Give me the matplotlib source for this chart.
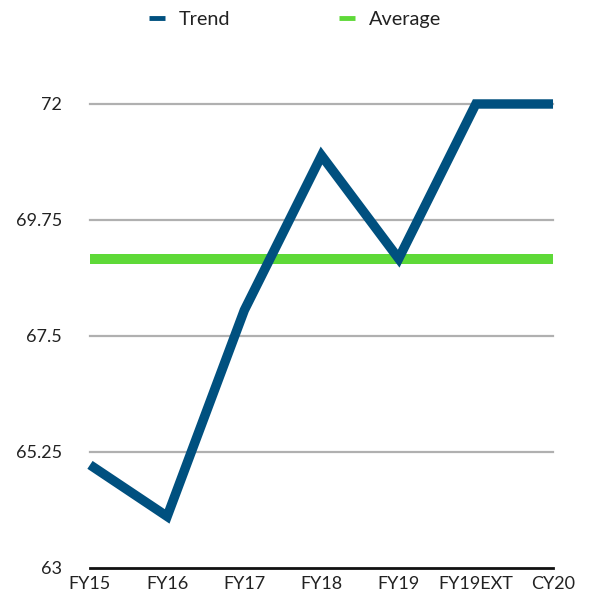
import matplotlib
matplotlib.use("Agg")
import matplotlib.pyplot as plt

plt.rcParams['font.family'] = ['Lato', 'DejaVu Sans']

periods = ['FY15', 'FY16', 'FY17', 'FY18', 'FY19', 'FY19EXT', 'CY20']
trend = [65.0, 64.0, 68.0, 71.0, 69.0, 72.0, 72.0]
average = [69.0] * len(periods)
yticks = [63, 65.25, 67.5, 69.75, 72]
ytick_labels = ['63', '65.25', '67.5', '69.75', '72']

fig = plt.figure(figsize=(5.94, 5.99), dpi=100)
ax = fig.add_axes([0.1515, 0.0518, 0.7795, 0.7746])

x = list(range(len(periods)))
ax.plot(x, average, color='#5ED938', lw=7.2, solid_capstyle='butt',
        clip_on=False, zorder=3, label='Average')
ax.plot(x, trend, color='#00507F', lw=6.8, solid_capstyle='butt',
        solid_joinstyle='miter', clip_on=False, zorder=4, label='Trend')

ax.set_xlim(0, len(periods) - 1)
ax.set_ylim(63, 72)
ax.set_yticks(yticks)
ax.set_yticklabels(ytick_labels)
ax.set_xticks(x)
ax.set_xticklabels(periods)

# horizontal grid only, dark baseline at the bottom
for y in yticks[1:]:
    ax.axhline(y, color='#b0b0b0', lw=1.6, zorder=1, clip_on=False)
ax.axhline(63, color='#111111', lw=2, zorder=2, clip_on=False)

for side in ['top', 'right', 'left', 'bottom']:
    ax.spines[side].set_visible(False)
ax.tick_params(axis='y', length=0, pad=20, labelsize=13, labelcolor='#222222')
ax.tick_params(axis='x', length=0, pad=6, labelsize=13, labelcolor='#222222')

handles, labels = ax.get_legend_handles_labels()
leg = fig.legend(handles[::-1], labels[::-1], loc='upper center',
                 bbox_to_anchor=(0.497, 1.012), ncol=2, frameon=False,
                 fontsize=14.3, handlelength=0.8, handletextpad=0.7,
                 columnspacing=5.5, labelcolor='#222222')
for line in leg.get_lines():
    line.set_linewidth(3.5)

fig.savefig('out.png', dpi=100)
